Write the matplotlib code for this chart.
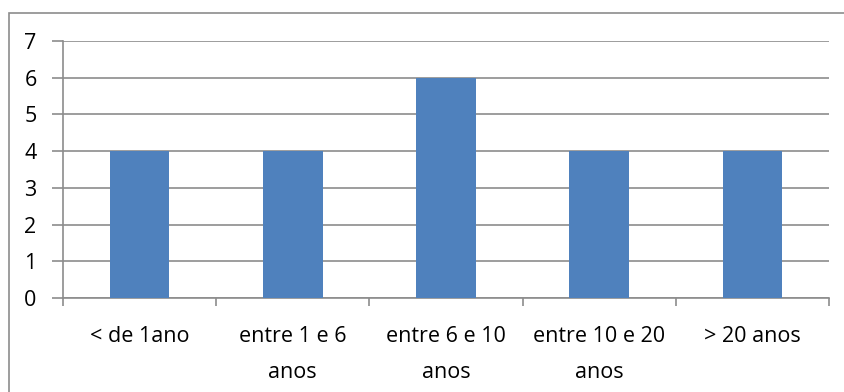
import matplotlib.pyplot as plt
from matplotlib.patches import Rectangle

categorias = ['< de 1ano', 'entre 1 e 6\nanos', 'entre 6 e 10\nanos', 'entre 10 e 20\nanos', '> 20 anos']
valores = [4, 4, 6, 4, 4]

plt.rcParams['font.family'] = ['Open Sans', 'DejaVu Sans']

fig = plt.figure(figsize=(8.45, 3.92), dpi=100)
ax = fig.add_axes([63 / 845, 1 - 298 / 392, (829 - 63) / 845, (298 - 41) / 392])

# moldura em volta do gráfico
fig.patches.append(Rectangle((9 / 845, -0.1), 1.2, 1 - 13 / 392 + 0.1, transform=fig.transFigure,
                             fill=False, edgecolor='#8c8c8c', linewidth=1.2))

posicoes = range(len(categorias))
ax.bar(posicoes, valores, width=0.39, color='#4F81BD', zorder=3)

ax.set_xlim(-0.5, len(categorias) - 0.5)
ax.set_ylim(0, 7)
ax.set_yticks(range(0, 8))
ax.yaxis.grid(True, color='#8c8c8c', linewidth=1.2, zorder=0)

ax.set_xticks(posicoes)
ax.set_xticklabels(categorias, fontsize=15.5, linespacing=1.95, va='top',
                   ha='center', multialignment='center', color='black')
ax.set_xticks([p + 0.5 for p in range(-1, len(categorias))], minor=True)
ax.tick_params(axis='x', which='major', length=0, pad=20)
ax.tick_params(axis='x', which='minor', length=6, color='#8c8c8c', width=1.2)
ax.tick_params(axis='y', length=8, color='#8c8c8c', width=1.2, labelsize=15.5, pad=11)

for lado in ['top', 'right']:
    ax.spines[lado].set_visible(False)
for lado in ['left', 'bottom']:
    ax.spines[lado].set_color('#8c8c8c')
    ax.spines[lado].set_linewidth(1.2)

fig.savefig('out.png', dpi=100)
